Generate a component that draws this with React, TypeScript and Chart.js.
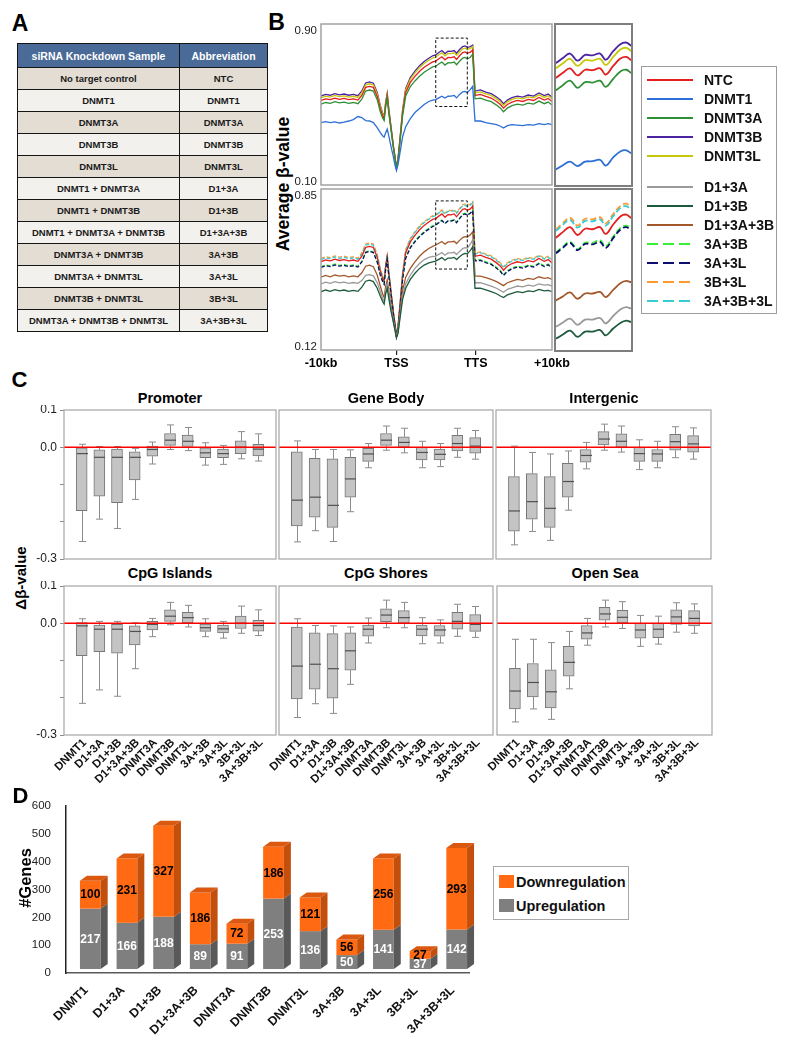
import React, { useEffect, useRef } from 'react';
import { Chart, registerables } from 'chart.js';

Chart.register(...registerables);

const FONT = '"Liberation Sans", Arial, Helvetica, sans-serif';
Chart.defaults.font.family = FONT;
Chart.defaults.color = '#222';

// ---------------- Panel A data ----------------
const knockdownSamples = [
  'No target control', 'DNMT1', 'DNMT3A', 'DNMT3B', 'DNMT3L', 'DNMT1 + DNMT3A', 'DNMT1 + DNMT3B',
  'DNMT1 + DNMT3A + DNMT3B', 'DNMT3A + DNMT3B', 'DNMT3A + DNMT3L', 'DNMT3B + DNMT3L', 'DNMT3A + DNMT3B + DNMT3L',
];
const abbreviations = ['NTC', 'DNMT1', 'DNMT3A', 'DNMT3B', 'DNMT3L', 'D1+3A', 'D1+3B', 'D1+3A+3B', '3A+3B', '3A+3L', '3B+3L', '3A+3B+3L'];

// ---------------- Panel B data ----------------
const profilePositions = [
  0, 6, 12, 18, 24, 30, 36, 42, 48, 53,
  58, 63, 68, 73, 77, 80, 82, 84, 86, 88,
  91, 94, 96, 98, 100, 103, 106, 110, 116, 122,
  128, 134, 140, 145, 149, 153, 157, 161, 165, 169,
  173, 176, 180, 184, 187, 190, 194, 197, 200, 207,
  214, 221, 228, 233, 237, 242, 248, 255, 262, 269,
  276, 283, 290, 295, 300,
];
const profileTickValues = [0, 98, 201, 300];
const profileTickLabels = ['-10kb', 'TSS', 'TTS', '+10kb'];
const topBetaRange = [0.1, 0.9];
const bottomBetaRange = [0.12, 0.85];
const zoomWindowX = [149, 190];
const zoomWindowTopY = [0.49, 0.83];
const zoomWindowBottomY = [0.487, 0.796];
const insetTopY = [0.49, 0.83];
const insetBottomY = [0.5, 0.81];

const betaNTC = [
  0.520, 0.528, 0.524, 0.532, 0.526, 0.530, 0.524, 0.528, 0.522, 0.545,
  0.585, 0.590, 0.585, 0.540, 0.478, 0.445, 0.430, 0.500, 0.545, 0.470,
  0.380, 0.290, 0.240, 0.185, 0.225, 0.340, 0.460, 0.560, 0.610, 0.640,
  0.665, 0.685, 0.700, 0.712, 0.716, 0.727, 0.737, 0.722, 0.734, 0.733,
  0.737, 0.724, 0.742, 0.758, 0.761, 0.754, 0.760, 0.772, 0.545, 0.550,
  0.540, 0.532, 0.515, 0.500, 0.482, 0.500, 0.512, 0.520, 0.515, 0.525,
  0.520, 0.535, 0.522, 0.530, 0.515,
];
const betaDNMT1 = [
  0.410, 0.415, 0.410, 0.414, 0.408, 0.412, 0.418, 0.425, 0.440, 0.435,
  0.420, 0.418, 0.410, 0.385, 0.360, 0.345, 0.338, 0.360, 0.378, 0.345,
  0.290, 0.240, 0.200, 0.172, 0.200, 0.270, 0.340, 0.390, 0.430, 0.460,
  0.480, 0.500, 0.515, 0.522, 0.524, 0.533, 0.541, 0.532, 0.541, 0.542,
  0.545, 0.533, 0.550, 0.563, 0.565, 0.559, 0.575, 0.590, 0.418, 0.418,
  0.410, 0.405, 0.400, 0.392, 0.383, 0.395, 0.400, 0.398, 0.395, 0.400,
  0.398, 0.405, 0.400, 0.405, 0.400,
];
const betaDNMT3A = [
  0.502, 0.510, 0.506, 0.514, 0.508, 0.512, 0.506, 0.510, 0.504, 0.527,
  0.567, 0.572, 0.567, 0.524, 0.464, 0.433, 0.420, 0.488, 0.533, 0.460,
  0.373, 0.285, 0.237, 0.183, 0.221, 0.330, 0.445, 0.542, 0.589, 0.617,
  0.640, 0.660, 0.675, 0.687, 0.690, 0.701, 0.711, 0.696, 0.708, 0.707,
  0.711, 0.698, 0.715, 0.731, 0.734, 0.727, 0.735, 0.750, 0.528, 0.532,
  0.522, 0.514, 0.497, 0.482, 0.464, 0.482, 0.494, 0.502, 0.497, 0.507,
  0.502, 0.517, 0.504, 0.512, 0.497,
];
const betaDNMT3B = [
  0.542, 0.550, 0.546, 0.554, 0.548, 0.552, 0.546, 0.550, 0.544, 0.567,
  0.607, 0.612, 0.606, 0.560, 0.495, 0.458, 0.440, 0.512, 0.556, 0.478,
  0.386, 0.293, 0.241, 0.183, 0.226, 0.348, 0.474, 0.580, 0.634, 0.666,
  0.693, 0.714, 0.730, 0.742, 0.747, 0.758, 0.768, 0.753, 0.765, 0.764,
  0.768, 0.755, 0.773, 0.788, 0.791, 0.784, 0.788, 0.795, 0.567, 0.573,
  0.562, 0.554, 0.537, 0.522, 0.504, 0.522, 0.534, 0.542, 0.537, 0.547,
  0.542, 0.557, 0.544, 0.552, 0.537,
];
const betaDNMT3L = [
  0.533, 0.541, 0.537, 0.545, 0.539, 0.543, 0.537, 0.541, 0.535, 0.558,
  0.598, 0.603, 0.598, 0.553, 0.490, 0.454, 0.437, 0.508, 0.552, 0.476,
  0.384, 0.292, 0.241, 0.184, 0.226, 0.345, 0.469, 0.572, 0.625, 0.657,
  0.683, 0.704, 0.720, 0.731, 0.736, 0.747, 0.757, 0.742, 0.754, 0.753,
  0.757, 0.744, 0.761, 0.777, 0.780, 0.773, 0.779, 0.788, 0.558, 0.563,
  0.553, 0.545, 0.528, 0.513, 0.495, 0.513, 0.525, 0.533, 0.528, 0.538,
  0.533, 0.548, 0.535, 0.543, 0.528,
];
const betaD1_3A = [
  0.420, 0.428, 0.422, 0.430, 0.424, 0.428, 0.422, 0.426, 0.422, 0.435,
  0.458, 0.462, 0.456, 0.425, 0.385, 0.355, 0.340, 0.390, 0.418, 0.370,
  0.305, 0.250, 0.215, 0.178, 0.200, 0.285, 0.365, 0.420, 0.460, 0.490,
  0.512, 0.530, 0.540, 0.544, 0.546, 0.554, 0.562, 0.550, 0.560, 0.560,
  0.563, 0.553, 0.567, 0.580, 0.584, 0.582, 0.600, 0.619, 0.425, 0.425,
  0.418, 0.410, 0.400, 0.390, 0.382, 0.395, 0.402, 0.410, 0.406, 0.414,
  0.410, 0.420, 0.414, 0.416, 0.410,
];
const betaD1_3B = [
  0.384, 0.392, 0.386, 0.394, 0.388, 0.392, 0.386, 0.390, 0.386, 0.405,
  0.432, 0.437, 0.430, 0.400, 0.365, 0.340, 0.328, 0.375, 0.400, 0.355,
  0.295, 0.245, 0.210, 0.175, 0.195, 0.275, 0.350, 0.400, 0.440, 0.468,
  0.490, 0.505, 0.515, 0.520, 0.523, 0.531, 0.539, 0.527, 0.537, 0.537,
  0.540, 0.530, 0.543, 0.554, 0.558, 0.556, 0.572, 0.588, 0.400, 0.400,
  0.393, 0.385, 0.375, 0.365, 0.358, 0.370, 0.377, 0.385, 0.380, 0.388,
  0.385, 0.395, 0.388, 0.390, 0.385,
];
const betaD1_3A_3B = [
  0.450, 0.458, 0.452, 0.460, 0.455, 0.458, 0.452, 0.456, 0.452, 0.470,
  0.500, 0.505, 0.498, 0.460, 0.410, 0.375, 0.358, 0.410, 0.437, 0.390,
  0.320, 0.260, 0.220, 0.180, 0.205, 0.300, 0.390, 0.450, 0.490, 0.520,
  0.545, 0.565, 0.580, 0.590, 0.596, 0.604, 0.612, 0.600, 0.610, 0.610,
  0.613, 0.603, 0.617, 0.630, 0.634, 0.632, 0.642, 0.656, 0.455, 0.455,
  0.448, 0.440, 0.430, 0.420, 0.412, 0.425, 0.432, 0.440, 0.436, 0.445,
  0.440, 0.452, 0.445, 0.448, 0.440,
];
const beta3A_3B = [
  0.498, 0.506, 0.502, 0.510, 0.504, 0.508, 0.502, 0.506, 0.500, 0.523,
  0.565, 0.570, 0.565, 0.522, 0.463, 0.433, 0.420, 0.488, 0.532, 0.460,
  0.373, 0.285, 0.237, 0.183, 0.220, 0.330, 0.444, 0.540, 0.587, 0.615,
  0.638, 0.657, 0.672, 0.684, 0.688, 0.699, 0.709, 0.695, 0.707, 0.707,
  0.712, 0.700, 0.719, 0.736, 0.740, 0.734, 0.742, 0.755, 0.528, 0.530,
  0.520, 0.512, 0.495, 0.480, 0.462, 0.480, 0.492, 0.500, 0.495, 0.505,
  0.500, 0.515, 0.502, 0.510, 0.495,
];
const beta3A_3L = [
  0.494, 0.502, 0.498, 0.506, 0.500, 0.504, 0.498, 0.502, 0.496, 0.519,
  0.562, 0.567, 0.562, 0.519, 0.460, 0.431, 0.418, 0.486, 0.530, 0.458,
  0.372, 0.284, 0.236, 0.182, 0.218, 0.327, 0.440, 0.536, 0.583, 0.611,
  0.634, 0.653, 0.668, 0.680, 0.686, 0.697, 0.707, 0.693, 0.705, 0.704,
  0.709, 0.697, 0.716, 0.733, 0.737, 0.731, 0.740, 0.752, 0.524, 0.526,
  0.516, 0.508, 0.491, 0.476, 0.458, 0.476, 0.488, 0.496, 0.491, 0.501,
  0.496, 0.511, 0.498, 0.506, 0.491,
];
const beta3B_3L = [
  0.535, 0.543, 0.539, 0.547, 0.541, 0.545, 0.539, 0.543, 0.537, 0.560,
  0.600, 0.605, 0.600, 0.554, 0.490, 0.455, 0.438, 0.510, 0.555, 0.478,
  0.385, 0.292, 0.241, 0.184, 0.226, 0.345, 0.472, 0.575, 0.626, 0.657,
  0.682, 0.702, 0.717, 0.729, 0.732, 0.744, 0.755, 0.740, 0.753, 0.752,
  0.756, 0.744, 0.762, 0.778, 0.782, 0.775, 0.782, 0.792, 0.560, 0.565,
  0.555, 0.547, 0.530, 0.515, 0.497, 0.515, 0.527, 0.535, 0.530, 0.540,
  0.535, 0.550, 0.537, 0.545, 0.530,
];
const beta3A_3B_3L = [
  0.530, 0.538, 0.534, 0.542, 0.536, 0.540, 0.534, 0.538, 0.532, 0.555,
  0.595, 0.600, 0.595, 0.550, 0.486, 0.452, 0.436, 0.507, 0.552, 0.476,
  0.384, 0.292, 0.241, 0.184, 0.226, 0.343, 0.468, 0.570, 0.622, 0.653,
  0.678, 0.698, 0.713, 0.725, 0.729, 0.741, 0.751, 0.736, 0.749, 0.748,
  0.752, 0.740, 0.758, 0.774, 0.777, 0.771, 0.777, 0.788, 0.556, 0.561,
  0.551, 0.543, 0.526, 0.511, 0.493, 0.511, 0.523, 0.531, 0.526, 0.536,
  0.531, 0.546, 0.533, 0.541, 0.526,
];

const profileValues: Record<string, number[]> = {
  'NTC': betaNTC, 'DNMT1': betaDNMT1, 'DNMT3A': betaDNMT3A, 'DNMT3B': betaDNMT3B, 'DNMT3L': betaDNMT3L,
  'D1+3A': betaD1_3A, 'D1+3B': betaD1_3B, 'D1+3A+3B': betaD1_3A_3B, '3A+3B': beta3A_3B,
  '3A+3L': beta3A_3L, '3B+3L': beta3B_3L, '3A+3B+3L': beta3A_3B_3L,
};
const topPanelSeries = ['DNMT1', 'DNMT3A', 'NTC', 'DNMT3L', 'DNMT3B'];
const bottomPanelSeries = ['D1+3B', 'D1+3A', 'D1+3A+3B', '3A+3L', '3A+3B', 'NTC', '3A+3B+3L', '3B+3L'];
const legendGroupOne = ['NTC', 'DNMT1', 'DNMT3A', 'DNMT3B', 'DNMT3L'];
const legendGroupTwo = ['D1+3A', 'D1+3B', 'D1+3A+3B', '3A+3B', '3A+3L', '3B+3L', '3A+3B+3L'];

// ---------------- Panel C data: [lower whisker, Q1, median, Q3, upper whisker] ----------------
const regionCategories = ['DNMT1', 'D1+3A', 'D1+3B', 'D1+3A+3B', 'DNMT3A', 'DNMT3B', 'DNMT3L', '3A+3B', '3A+3L', '3B+3L', '3A+3B+3L'];
const deltaRange = [-0.3, 0.1];
const deltaLabelledTicks = ['0.1', '0.0', '-0.3'];
const promoterBoxes = [
  [-0.253, -0.170, -0.017, 0.000, 0.008],
  [-0.193, -0.131, -0.027, -0.007, 0.002],
  [-0.218, -0.149, -0.027, -0.005, 0.002],
  [-0.140, -0.088, -0.027, -0.012, -0.003],
  [-0.045, -0.024, -0.006, 0.003, 0.014],
  [-0.006, 0.005, 0.019, 0.037, 0.060],
  [-0.009, 0.002, 0.016, 0.033, 0.053],
  [-0.048, -0.028, -0.015, 0.000, 0.012],
  [-0.046, -0.028, -0.017, -0.005, 0.005],
  [-0.031, -0.017, 0.000, 0.017, 0.042],
  [-0.037, -0.023, -0.005, 0.008, 0.036],
];
const geneBodyBoxes = [
  [-0.254, -0.211, -0.142, -0.012, 0.017],
  [-0.224, -0.188, -0.134, -0.030, -0.006],
  [-0.253, -0.215, -0.156, -0.031, -0.006],
  [-0.173, -0.134, -0.085, -0.027, -0.007],
  [-0.055, -0.038, -0.018, -0.003, 0.010],
  [-0.008, 0.005, 0.019, 0.037, 0.057],
  [-0.015, 0.000, 0.013, 0.028, 0.051],
  [-0.055, -0.034, -0.014, 0.000, 0.016],
  [-0.052, -0.034, -0.019, -0.005, 0.010],
  [-0.027, -0.010, 0.010, 0.032, 0.051],
  [-0.032, -0.016, 0.003, 0.026, 0.045],
];
const intergenicBoxes = [
  [-0.262, -0.225, -0.171, -0.079, 0.003],
  [-0.226, -0.193, -0.146, -0.071, -0.014],
  [-0.250, -0.215, -0.164, -0.079, -0.018],
  [-0.169, -0.134, -0.092, -0.043, -0.010],
  [-0.058, -0.040, -0.022, -0.006, 0.013],
  [-0.008, 0.006, 0.022, 0.042, 0.062],
  [-0.013, 0.000, 0.016, 0.036, 0.057],
  [-0.060, -0.038, -0.017, 0.000, 0.020],
  [-0.055, -0.038, -0.018, -0.006, 0.016],
  [-0.028, -0.008, 0.015, 0.035, 0.055],
  [-0.032, -0.013, 0.009, 0.031, 0.052],
];
const cpgIslandBoxes = [
  [-0.215, -0.087, -0.007, 0.002, 0.012],
  [-0.179, -0.076, -0.016, -0.005, 0.005],
  [-0.196, -0.080, -0.016, -0.003, 0.005],
  [-0.122, -0.058, -0.022, -0.007, 0.001],
  [-0.036, -0.018, -0.003, 0.005, 0.013],
  [-0.004, 0.005, 0.019, 0.036, 0.056],
  [-0.010, 0.001, 0.015, 0.029, 0.048],
  [-0.036, -0.022, -0.012, -0.002, 0.012],
  [-0.040, -0.026, -0.015, -0.005, 0.005],
  [-0.027, -0.014, 0.000, 0.019, 0.046],
  [-0.033, -0.021, -0.006, 0.008, 0.036],
];
const cpgShoreBoxes = [
  [-0.253, -0.203, -0.115, -0.010, 0.012],
  [-0.216, -0.177, -0.110, -0.026, -0.006],
  [-0.242, -0.201, -0.122, -0.028, -0.007],
  [-0.164, -0.126, -0.074, -0.026, -0.010],
  [-0.053, -0.035, -0.016, -0.005, 0.014],
  [-0.012, 0.004, 0.022, 0.039, 0.062],
  [-0.012, 0.000, 0.015, 0.034, 0.056],
  [-0.055, -0.034, -0.016, -0.005, 0.015],
  [-0.053, -0.035, -0.018, -0.006, 0.009],
  [-0.035, -0.016, 0.005, 0.029, 0.051],
  [-0.038, -0.022, -0.003, 0.023, 0.045],
];
const openSeaBoxes = [
  [-0.265, -0.230, -0.182, -0.121, -0.043],
  [-0.230, -0.198, -0.159, -0.108, -0.043],
  [-0.258, -0.227, -0.184, -0.125, -0.052],
  [-0.176, -0.142, -0.105, -0.062, -0.022],
  [-0.059, -0.043, -0.026, -0.006, 0.013],
  [-0.010, 0.008, 0.025, 0.043, 0.062],
  [-0.014, 0.001, 0.016, 0.035, 0.058],
  [-0.062, -0.040, -0.018, 0.000, 0.021],
  [-0.056, -0.039, -0.016, 0.000, 0.019],
  [-0.024, -0.003, 0.017, 0.036, 0.055],
  [-0.027, -0.007, 0.013, 0.034, 0.052],
];

// ---------------- Panel D data ----------------
const geneCategories = ['DNMT1', 'D1+3A', 'D1+3B', 'D1+3A+3B', 'DNMT3A', 'DNMT3B', 'DNMT3L', '3A+3B', '3A+3L', '3B+3L', '3A+3B+3L'];
const downregulatedGenes = [100, 231, 327, 186, 72, 186, 121, 56, 256, 27, 293];
const upregulatedGenes = [217, 166, 188, 89, 91, 253, 136, 50, 141, 37, 142];
const geneAxisMax = 600;
const geneAxisStep = 100;

// ---------------- styles ----------------
const seriesColors: Record<string, string> = {
  'NTC': '#E41F1F', 'DNMT1': '#2C6FD6', 'DNMT3A': '#2F8F35', 'DNMT3B': '#4B23A0', 'DNMT3L': '#C8C80A',
  'D1+3A': '#9A9A9A', 'D1+3B': '#1C5A3C', 'D1+3A+3B': '#A2582B', '3A+3B': '#39F039',
  '3A+3L': '#0D0D6E', '3B+3L': '#FF9A30', '3A+3B+3L': '#36CCD0',
};
const dashedSeries = ['3A+3B', '3A+3L', '3B+3L', '3A+3B+3L'];

const fixAxis = (size: number) => (scale: any) => {
  if (scale.isHorizontal()) scale.height = size;
  else scale.width = size;
  scale.paddingLeft = 0;
  scale.paddingRight = 0;
  scale.paddingTop = 0;
  scale.paddingBottom = 0;
};

const baseOptions = (pad: any) => ({
  animation: false,
  responsive: false,
  devicePixelRatio: 1,
  events: [],
  layout: { padding: pad, autoPadding: false },
  plugins: { legend: { display: false }, tooltip: { enabled: false }, title: { display: false } },
});

const framePlugin = (color: string, width: number) => ({
  id: 'frame',
  afterDraw(chart: any) {
    const { ctx, chartArea: a } = chart;
    ctx.save();
    ctx.strokeStyle = color;
    ctx.lineWidth = width;
    ctx.strokeRect(a.left, a.top, a.right - a.left, a.bottom - a.top);
    ctx.restore();
  },
});

const endLabelsPlugin = {
  id: 'endLabels',
  afterDraw(chart: any) {
    const { ctx, chartArea: a, scales } = chart;
    const y = scales.y;
    ctx.save();
    ctx.font = `11.5px ${FONT}`;
    ctx.fillStyle = '#1a1a1a';
    ctx.textAlign = 'right';
    ctx.textBaseline = 'middle';
    ctx.fillText(Number(y.max).toFixed(2), a.left - 4, y.getPixelForValue(y.max) + 6.5);
    ctx.fillText(Number(y.min).toFixed(2), a.left - 4, y.getPixelForValue(y.min) - 3.5);
    ctx.restore();
  },
};

const zoomBoxPlugin = (yWin: number[]) => ({
  id: 'zoomBox',
  afterDatasetsDraw(chart: any) {
    const { ctx, scales } = chart;
    const l = scales.x.getPixelForValue(zoomWindowX[0]);
    const r = scales.x.getPixelForValue(zoomWindowX[1]);
    const t = scales.y.getPixelForValue(yWin[1]);
    const b = scales.y.getPixelForValue(yWin[0]);
    ctx.save();
    ctx.setLineDash([3, 2]);
    ctx.strokeStyle = '#111';
    ctx.lineWidth = 1;
    ctx.strokeRect(l, t, r - l, b - t);
    ctx.restore();
  },
});

const profileDataset = (name: string, width: number, dash: number[], tension: number) => ({
  label: name,
  data: profilePositions.map((x, i) => ({ x, y: profileValues[name][i] })),
  borderColor: seriesColors[name],
  borderWidth: width,
  borderDash: dashedSeries.includes(name) ? dash : [],
  pointRadius: 0,
  fill: false,
  tension,
});

function profileMainConfig(names: string[], yRange: number[], win: number[], pad: any, showX: boolean) {
  const xAxis: any = showX
    ? {
        type: 'linear', min: 0, max: 300, display: true,
        afterFit: fixAxis(25),
        afterBuildTicks: (s: any) => { s.ticks = profileTickValues.map((v) => ({ value: v })); },
        ticks: {
          callback: (v: any) => profileTickLabels[profileTickValues.indexOf(Number(v))],
          font: { size: 12.5, weight: 'bold' }, color: '#000', padding: 1, maxRotation: 0, minRotation: 0, autoSkip: false,
        },
        grid: {
          drawOnChartArea: false, drawTicks: true, tickLength: 5, lineWidth: 1.2,
          color: (c: any) => (c.index > 0 && c.index < profileTickValues.length - 1 ? '#222' : 'rgba(0,0,0,0)'),
        },
        border: { display: false },
      }
    : { type: 'linear', min: 0, max: 300, display: false };
  return {
    type: 'line',
    data: { datasets: names.map((n) => profileDataset(n, 1.3, [4, 2], 0)) },
    options: {
      ...baseOptions(pad),
      scales: { x: xAxis, y: { type: 'linear', min: yRange[0], max: yRange[1], display: false } },
    },
    plugins: [framePlugin('#A3A3A3', 1.5), endLabelsPlugin, zoomBoxPlugin(win)],
  };
}

function profileInsetConfig(names: string[], yRange: number[]) {
  return {
    type: 'line',
    data: { datasets: names.map((n) => profileDataset(n, 1.8, [6, 3], 0.4)) },
    options: {
      ...baseOptions({ left: 3, top: 3, right: 3, bottom: 3 }),
      scales: {
        x: { type: 'linear', min: zoomWindowX[0], max: zoomWindowX[1], display: false },
        y: { type: 'linear', min: yRange[0], max: yRange[1], display: false },
      },
    },
    plugins: [framePlugin('#7E7E7E', 2)],
  };
}

const boxDetailsPlugin = (boxes: number[][]) => ({
  id: 'boxDetails',
  afterDatasetsDraw(chart: any) {
    const { ctx, chartArea: a, scales } = chart;
    const x = scales.x;
    const y = scales.y;
    const seg = (x1: number, y1: number, x2: number, y2: number) => {
      ctx.beginPath();
      ctx.moveTo(x1, y1);
      ctx.lineTo(x2, y2);
      ctx.stroke();
    };
    ctx.save();
    boxes.forEach((b, i) => {
      const px = Math.round(x.getPixelForValue(i)) + 0.5;
      const [lo, q1, med, q3, hi] = b.map((v) => y.getPixelForValue(v));
      ctx.strokeStyle = '#8C8C8C';
      ctx.lineWidth = 1;
      seg(px, q3, px, hi);
      seg(px, q1, px, lo);
      seg(px - 3.5, hi, px + 3.5, hi);
      seg(px - 3.5, lo, px + 3.5, lo);
      ctx.strokeStyle = '#505050';
      ctx.lineWidth = 1.2;
      seg(px - 5.5, med, px + 5.5, med);
    });
    const y0 = y.getPixelForValue(0);
    ctx.strokeStyle = '#FF0000';
    ctx.lineWidth = 1.6;
    seg(a.left, y0, a.right, y0);
    ctx.restore();
  },
});

function boxConfig(boxes: number[][], o: { showY: boolean; showX: boolean; pad: any; xAxisHeight: number }) {
  const yAxis: any = o.showY
    ? {
        type: 'linear', min: deltaRange[0], max: deltaRange[1], display: true,
        afterFit: fixAxis(36),
        ticks: {
          stepSize: 0.1, font: { size: 12 }, color: '#1a1a1a', padding: 3,
          callback: (v: any) => {
            let s = Number(v).toFixed(1);
            if (s === '-0.0') s = '0.0';
            return deltaLabelledTicks.includes(s) ? s : '';
          },
        },
        grid: { drawOnChartArea: false, drawTicks: true, tickLength: 4, color: '#8A8A8A' },
        border: { display: false },
      }
    : { type: 'linear', min: deltaRange[0], max: deltaRange[1], display: false };
  const xAxis: any = o.showX
    ? {
        type: 'linear', min: -1, max: 11, display: true, offset: false,
        afterFit: fixAxis(o.xAxisHeight),
        afterBuildTicks: (s: any) => { s.ticks = regionCategories.map((_, i) => ({ value: i })); },
        ticks: {
          callback: (v: any) => regionCategories[Number(v)] ?? '',
          font: { size: 11.5, weight: 'bold' }, color: '#111', minRotation: 45, maxRotation: 45, autoSkip: false,
          padding: 1, labelOffset: 3,
        },
        grid: { display: false, drawTicks: false, offset: false },
        border: { display: false },
      }
    : { type: 'linear', min: -1, max: 11, display: false, offset: false, grid: { offset: false } };
  return {
    type: 'bar',
    data: {
      datasets: [{
        data: boxes.map((b, i) => ({ x: i, y: [b[1], b[3]] })),
        backgroundColor: '#C4C4C4', borderColor: '#777777', borderWidth: 1, borderSkipped: false, barThickness: 11,
      }],
    },
    options: { ...baseOptions(o.pad), scales: { x: xAxis, y: yAxis } },
    plugins: [boxDetailsPlugin(boxes), framePlugin('#A5A5A5', 1.2)],
  };
}

const FACE = { shiftX: 6, shiftY: -4, depthX: 7, depthY: -5 };
const barStyles = [
  { front: '#7F7F7F', side: '#595959', top: '#6A6A6A', text: '#FFFFFF' },
  { front: '#FF6A13', side: '#C24F0C', top: '#DA5810', text: '#000000' },
];

const bars3dPlugin = {
  id: 'bars3d',
  afterDatasetsDraw(chart: any) {
    const { ctx } = chart;
    const metas = [chart.getDatasetMeta(0), chart.getDatasetMeta(1)];
    const values = [upregulatedGenes, downregulatedGenes];
    ctx.save();
    metas[0].data.forEach((_: any, i: number) => {
      metas.forEach((meta: any, k: number) => {
        const el = meta.data[i];
        const st = barStyles[k];
        const p = el.getProps(['x', 'y', 'base', 'width'], true);
        const l = p.x - p.width / 2 + FACE.shiftX;
        const r = p.x + p.width / 2 + FACE.shiftX;
        const t = Math.min(p.y, p.base) + FACE.shiftY;
        const b = Math.max(p.y, p.base) + FACE.shiftY;
        ctx.fillStyle = st.front;
        ctx.fillRect(l, t, r - l, b - t);
        ctx.fillStyle = st.side;
        ctx.beginPath();
        ctx.moveTo(r, t);
        ctx.lineTo(r + FACE.depthX, t + FACE.depthY);
        ctx.lineTo(r + FACE.depthX, b + FACE.depthY);
        ctx.lineTo(r, b);
        ctx.closePath();
        ctx.fill();
        if (k === 1) {
          ctx.fillStyle = st.top;
          ctx.beginPath();
          ctx.moveTo(l, t);
          ctx.lineTo(l + FACE.depthX, t + FACE.depthY);
          ctx.lineTo(r + FACE.depthX, t + FACE.depthY);
          ctx.lineTo(r, t);
          ctx.closePath();
          ctx.fill();
        }
      });
      metas.forEach((meta: any, k: number) => {
        const el = meta.data[i];
        const p = el.getProps(['x', 'y', 'base', 'width'], true);
        ctx.fillStyle = barStyles[k].text;
        ctx.font = `bold 12px ${FONT}`;
        ctx.textAlign = 'center';
        ctx.textBaseline = 'middle';
        ctx.fillText(String(values[k][i]), p.x + FACE.shiftX, (p.y + p.base) / 2 + FACE.shiftY + 0.5);
      });
    });
    ctx.restore();
  },
};

function genesConfig() {
  return {
    type: 'bar',
    data: {
      labels: geneCategories,
      datasets: [
        { label: 'Upregulation', data: upregulatedGenes, backgroundColor: 'rgba(0,0,0,0)', stack: 'genes', categoryPercentage: 1, barPercentage: 0.566 },
        { label: 'Downregulation', data: downregulatedGenes, backgroundColor: 'rgba(0,0,0,0)', stack: 'genes', categoryPercentage: 1, barPercentage: 0.566 },
      ],
    },
    options: {
      ...baseOptions({ left: 0, top: 26, right: 21, bottom: 0 }),
      scales: {
        x: {
          stacked: true, afterFit: fixAxis(77),
          grid: { display: false, drawTicks: false },
          border: { display: true, color: '#5A5A5A', width: 1.5 },
          ticks: { font: { size: 12.5, weight: 'bold' }, color: '#111', minRotation: 45, maxRotation: 45, autoSkip: false, padding: 10, labelOffset: 2 },
        },
        y: {
          stacked: true, min: 0, max: geneAxisMax, afterFit: fixAxis(66),
          grid: { display: false, drawTicks: false },
          border: { display: true, color: '#222', width: 1.5 },
          ticks: { stepSize: geneAxisStep, font: { size: 11.5 }, color: '#222', padding: 15 },
        },
      },
    },
    plugins: [bars3dPlugin],
  };
}

// ---------------- components ----------------
function ChartCanvas({ left, top, width, height, config }: any) {
  const ref = useRef<HTMLCanvasElement | null>(null);
  useEffect(() => {
    if (!ref.current) return undefined;
    const chart = new Chart(ref.current, config());
    return () => chart.destroy();
  }, []);
  return <canvas ref={ref} width={width} height={height} style={{ position: 'absolute', left, top, width, height }} />;
}

function Txt({ x, y, size, bold = true, rotate = 0, children, color = '#000' }: any) {
  return (
    <div
      style={{
        position: 'absolute', left: x, top: y, transform: `translate(-50%, -50%)${rotate ? ` rotate(${rotate}deg)` : ''}`,
        fontSize: size, fontWeight: bold ? 700 : 400, lineHeight: 1, whiteSpace: 'nowrap', color, fontFamily: FONT,
      }}
    >
      {children}
    </div>
  );
}

function LegendRow({ name, y }: { name: string; y: number }) {
  const dashed = dashedSeries.includes(name);
  return (
    <>
      <svg width={46} height={6} style={{ position: 'absolute', left: 647, top: y - 3 }}>
        <line x1={0} y1={3} x2={46} y2={3} stroke={seriesColors[name]} strokeWidth={2.2} strokeDasharray={dashed ? '11 5' : undefined} />
      </svg>
      <div style={{ position: 'absolute', left: 704, top: y, transform: 'translateY(-50%)', fontSize: 14, fontWeight: 700, lineHeight: 1, color: '#111', whiteSpace: 'nowrap' }}>
        {name}
      </div>
    </>
  );
}

const headerCell: any = {
  border: '1.5px solid #151515', padding: 0, textAlign: 'center', verticalAlign: 'middle',
  fontWeight: 700, fontSize: 10.5, color: '#FFFFFF', background: '#4A6A97',
};
const bodyCell: any = {
  border: '1.5px solid #151515', padding: 0, textAlign: 'center', verticalAlign: 'middle',
  fontWeight: 700, fontSize: 9.5, color: '#1A1A1A',
};

export default function App() {
  return (
    <div style={{ position: 'absolute', left: 0, top: 0, width: 788, height: 1050, background: '#FFFFFF', overflow: 'hidden', fontFamily: FONT, color: '#000' }}>
      {/* Panel A */}
      <Txt x={20} y={23} size={23}>A</Txt>
      <table style={{ position: 'absolute', left: 17, top: 43, width: 250, borderCollapse: 'collapse', tableLayout: 'fixed', fontFamily: FONT }}>
        <colgroup>
          <col style={{ width: 162 }} />
          <col style={{ width: 88 }} />
        </colgroup>
        <thead>
          <tr style={{ height: 24 }}>
            <th style={headerCell}>siRNA Knockdown Sample</th>
            <th style={headerCell}>Abbreviation</th>
          </tr>
        </thead>
        <tbody>
          {knockdownSamples.map((s, i) => (
            <tr key={s} style={{ height: 22, background: i % 2 === 0 ? '#E4DDD4' : '#F3F1ED' }}>
              <td style={bodyCell}>{s}</td>
              <td style={bodyCell}>{abbreviations[i]}</td>
            </tr>
          ))}
        </tbody>
      </table>

      {/* Panel B */}
      <Txt x={276.5} y={21.5} size={23}>B</Txt>
      <Txt x={284} y={183.5} size={17.5} rotate={-90}>Average β-value</Txt>
      <ChartCanvas left={290} top={14} width={266} height={176}
        config={() => profileMainConfig(topPanelSeries, topBetaRange, zoomWindowTopY, { left: 31, top: 10, right: 4, bottom: 5 }, false)} />
      <ChartCanvas left={290} top={180} width={290} height={195}
        config={() => profileMainConfig(bottomPanelSeries, bottomBetaRange, zoomWindowBottomY, { left: 31, top: 9, right: 28, bottom: 0 }, true)} />
      <ChartCanvas left={552} top={21} width={83} height={168} config={() => profileInsetConfig(topPanelSeries, insetTopY)} />
      <ChartCanvas left={552} top={186} width={83} height={168} config={() => profileInsetConfig(bottomPanelSeries, insetBottomY)} />
      <div style={{ position: 'absolute', left: 641, top: 66, width: 136, height: 248, border: '1px solid #9C9C9C', boxSizing: 'border-box' }} />
      {legendGroupOne.map((n, i) => <LegendRow key={n} name={n} y={80 + i * 19} />)}
      {legendGroupTwo.map((n, i) => <LegendRow key={n} name={n} y={187 + i * 19} />)}

      {/* Panel C */}
      <Txt x={19.5} y={380} size={22}>C</Txt>
      <Txt x={20} y={578} size={15} rotate={-90}>Δβ-value</Txt>
      <Txt x={170} y={398} size={14.5}>Promoter</Txt>
      <Txt x={386} y={398} size={14.5}>Gene Body</Txt>
      <Txt x={604} y={398} size={14.5}>Intergenic</Txt>
      <Txt x={170} y={573} size={14.5}>CpG Islands</Txt>
      <Txt x={386} y={573} size={14.5}>CpG Shores</Txt>
      <Txt x={605} y={573} size={14.5}>Open Sea</Txt>
      <ChartCanvas left={28} top={405} width={252} height={160}
        config={() => boxConfig(promoterBoxes, { showY: true, showX: false, pad: { left: 0, top: 5, right: 4, bottom: 6 }, xAxisHeight: 0 })} />
      <ChartCanvas left={275} top={405} width={222} height={160}
        config={() => boxConfig(geneBodyBoxes, { showY: false, showX: false, pad: { left: 4, top: 5, right: 4, bottom: 6 }, xAxisHeight: 0 })} />
      <ChartCanvas left={492} top={405} width={223} height={160}
        config={() => boxConfig(intergenicBoxes, { showY: false, showX: false, pad: { left: 4, top: 5, right: 4, bottom: 6 }, xAxisHeight: 0 })} />
      <ChartCanvas left={28} top={581} width={252} height={209}
        config={() => boxConfig(cpgIslandBoxes, { showY: true, showX: true, pad: { left: 0, top: 5, right: 4, bottom: 0 }, xAxisHeight: 55 })} />
      <ChartCanvas left={240} top={581} width={257} height={209}
        config={() => boxConfig(cpgShoreBoxes, { showY: false, showX: true, pad: { left: 39, top: 5, right: 4, bottom: 0 }, xAxisHeight: 55 })} />
      <ChartCanvas left={455} top={581} width={261} height={209}
        config={() => boxConfig(openSeaBoxes, { showY: false, showX: true, pad: { left: 42, top: 5, right: 4, bottom: 0 }, xAxisHeight: 55 })} />

      {/* Panel D */}
      <Txt x={20.5} y={796} size={22}>D</Txt>
      <Txt x={24.5} y={878} size={16.5} rotate={-90}>#Genes</Txt>
      <ChartCanvas left={0} top={780} width={490} height={270} config={genesConfig} />
      <div style={{ position: 'absolute', left: 493, top: 866, width: 136, height: 54, border: '1.5px solid #A8A8A8', boxSizing: 'border-box' }} />
      <div style={{ position: 'absolute', left: 499, top: 875, width: 15, height: 13, background: barStyles[1].front }} />
      <div style={{ position: 'absolute', left: 516, top: 881.5, transform: 'translateY(-50%)', fontSize: 14.5, fontWeight: 700, lineHeight: 1, whiteSpace: 'nowrap', color: '#111' }}>Downregulation</div>
      <div style={{ position: 'absolute', left: 499, top: 899, width: 15, height: 13, background: barStyles[0].front }} />
      <div style={{ position: 'absolute', left: 516, top: 905.5, transform: 'translateY(-50%)', fontSize: 14.5, fontWeight: 700, lineHeight: 1, whiteSpace: 'nowrap', color: '#111' }}>Upregulation</div>
    </div>
  );
}
